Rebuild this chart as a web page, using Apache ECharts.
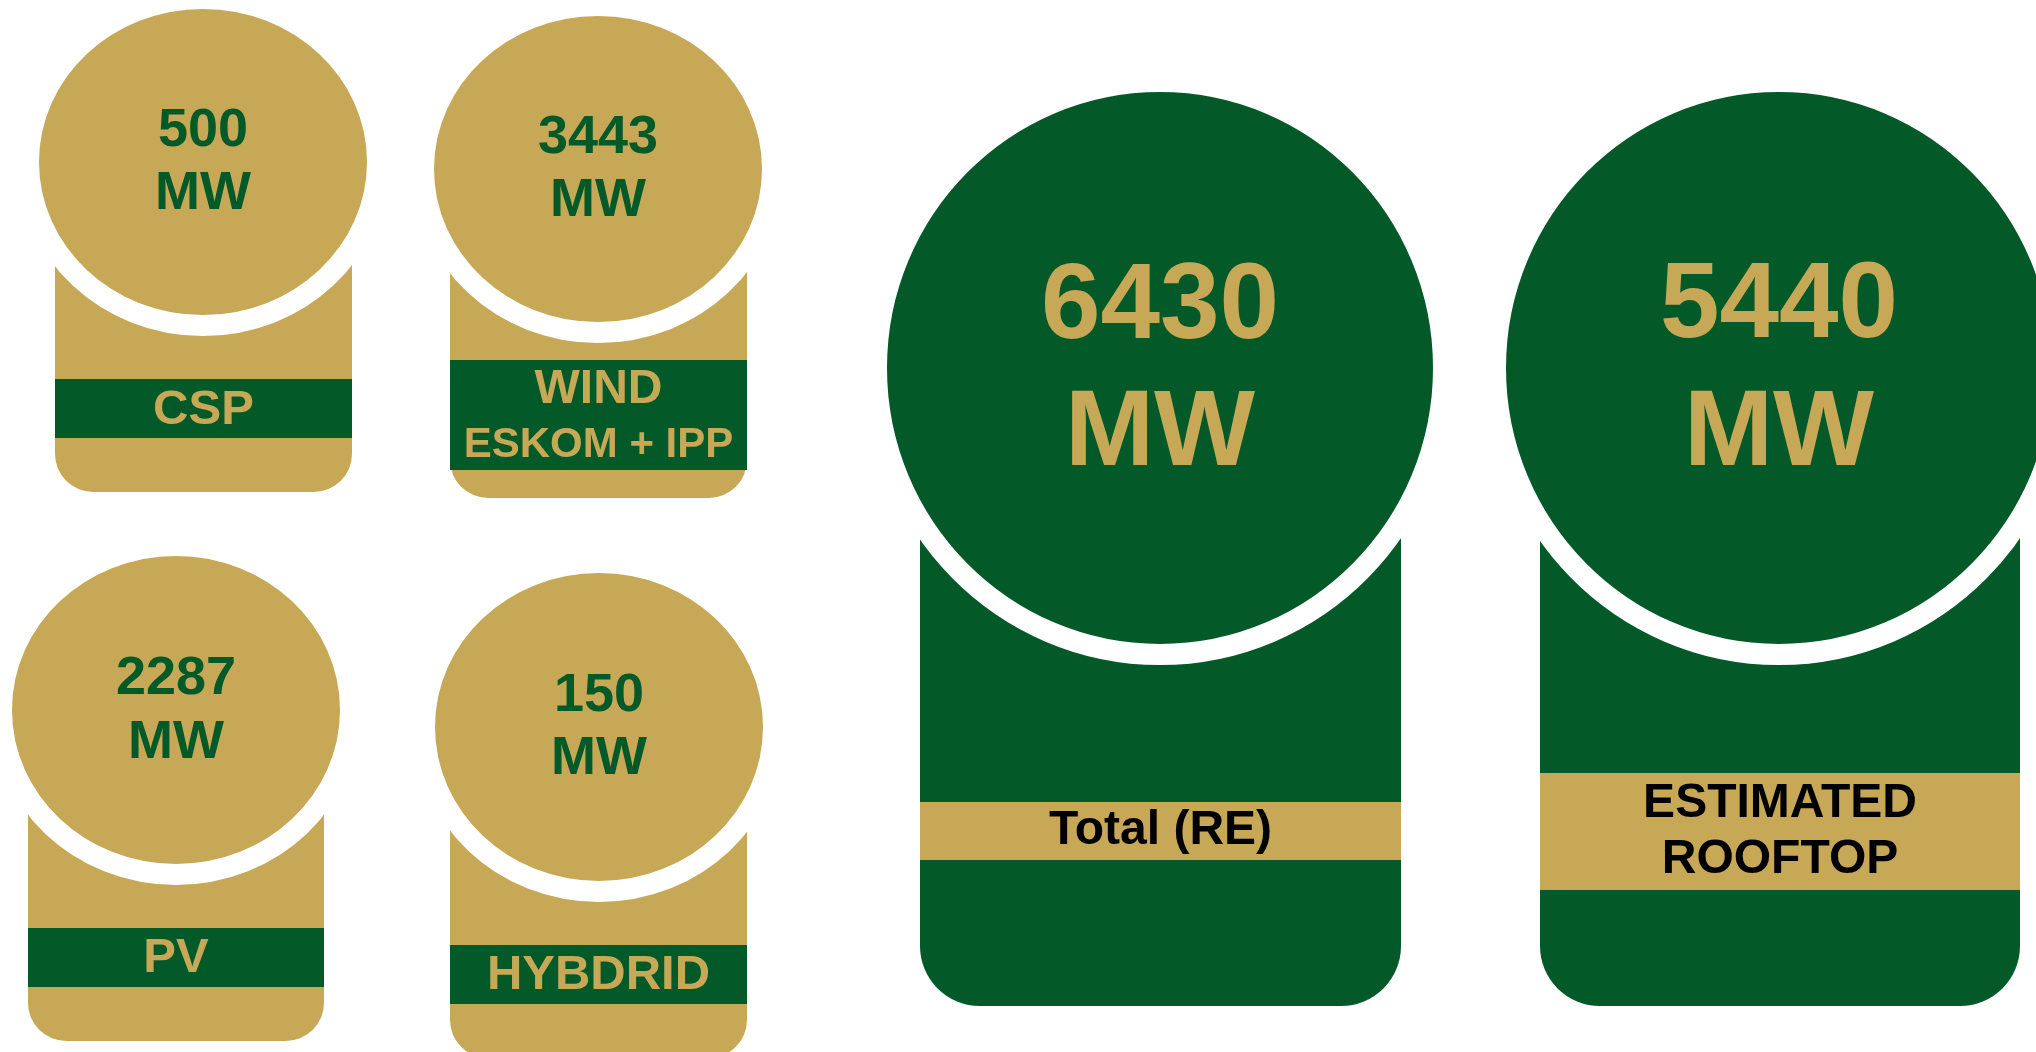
<!DOCTYPE html>
<html>
<head>
<meta charset="utf-8">
<script src="https://cdn.jsdelivr.net/npm/echarts@6/dist/echarts.min.js"></script>
<style>
html,body{margin:0;padding:0;background:#fff;}
#chart{width:2036px;height:1052px;}
</style>
</head>
<body>
<div id="chart"></div>
<script>
// ---- data ----
var categories = ['CSP', 'WIND\nESKOM + IPP', 'PV', 'HYBDRID', 'Total (RE)', 'ESTIMATED\nROOFTOP'];
var values = [500, 3443, 2287, 150, 6430, 5440];
var unit = 'MW';

// ---- layout / styling (not data) ----
var TAN = '#C6A856';
var GREEN = '#035A28';
var layout = [
  {cx:203, cy:162, rx:164, ry:153, x1:55,  x2:352,  bottom:492,  r:38, b1:379, b2:438, numY:[131.5,194.5], labY:[410],       numSize:54,  labSize:[49],    main:TAN,   band:GREEN, numColor:GREEN, labColor:TAN},
  {cx:598, cy:169, rx:164, ry:153, x1:450, x2:747,  bottom:498,  r:38, b1:360, b2:470, numY:[138,201.5],   labY:[390,445],   numSize:54,  labSize:[48,42], main:TAN,   band:GREEN, numColor:GREEN, labColor:TAN},
  {cx:176, cy:710, rx:164, ry:154, x1:28,  x2:324,  bottom:1041, r:38, b1:928, b2:987, numY:[679.5,743],   labY:[958.5],     numSize:54,  labSize:[49],    main:TAN,   band:GREEN, numColor:GREEN, labColor:TAN},
  {cx:599, cy:727, rx:164, ry:154, x1:450, x2:747,  bottom:1058, r:38, b1:945, b2:1004,numY:[696,759],     labY:[975],       numSize:54,  labSize:[49],    main:TAN,   band:GREEN, numColor:GREEN, labColor:TAN},
  {cx:1160,cy:368, rx:273, ry:276, x1:920, x2:1401, bottom:1006, r:60, b1:802, b2:860, numY:[308,435],     labY:[831],       numSize:107, labSize:[48],    main:GREEN, band:TAN,   numColor:TAN,   labColor:'#000'},
  {cx:1779,cy:368, rx:273, ry:276, x1:1540,x2:2020, bottom:1006, r:60, b1:773, b2:890, numY:[307,435],     labY:[803.5,860], numSize:107, labSize:[48],    main:GREEN, band:TAN,   numColor:TAN,   labColor:'#000'}
];
var GAP = 21;
var FONT = 'Liberation Sans';

function txt(text, x, y, size, color) {
  return {
    type: 'text',
    x: x, y: y,
    style: {
      text: text,
      align: 'center', verticalAlign: 'middle',
      fontSize: size, fontWeight: 'bold', fontFamily: FONT,
      fill: color
    }
  };
}

function renderItem(params, api) {
  var i = params.dataIndex;
  var L = layout[i];
  var v = api.value(1);
  var children = [];
  children.push({
    type: 'rect',
    shape: {x: L.x1, y: L.cy, width: L.x2 - L.x1, height: L.bottom - L.cy, r: [0, 0, L.r, L.r]},
    style: {fill: L.main}
  });
  children.push({
    type: 'rect',
    shape: {x: L.x1, y: L.b1, width: L.x2 - L.x1, height: L.b2 - L.b1},
    style: {fill: L.band}
  });
  children.push({
    type: 'ellipse',
    shape: {cx: L.cx, cy: L.cy, rx: L.rx + GAP / 2, ry: L.ry + GAP / 2},
    style: {fill: L.main, stroke: '#ffffff', lineWidth: GAP}
  });
  children.push(txt(String(v), L.cx, L.numY[0], L.numSize, L.numColor));
  children.push(txt(unit, L.cx, L.numY[1], L.numSize, L.numColor));
  var lines = categories[i].split('\n');
  var bx = (L.x1 + L.x2) / 2;
  lines.forEach(function (ln, k) {
    var sz = L.labSize[k] !== undefined ? L.labSize[k] : L.labSize[0];
    children.push(txt(ln, bx, L.labY[k], sz, L.labColor));
  });
  return {type: 'group', children: children};
}

var chart = echarts.init(document.getElementById('chart'));
chart.setOption({
  backgroundColor: '#ffffff',
  animation: false,
  series: [{
    type: 'custom',
    coordinateSystem: 'none',
    renderItem: renderItem,
    data: categories.map(function (c, i) { return [i, values[i]]; })
  }]
});
</script>
</body>
</html>
